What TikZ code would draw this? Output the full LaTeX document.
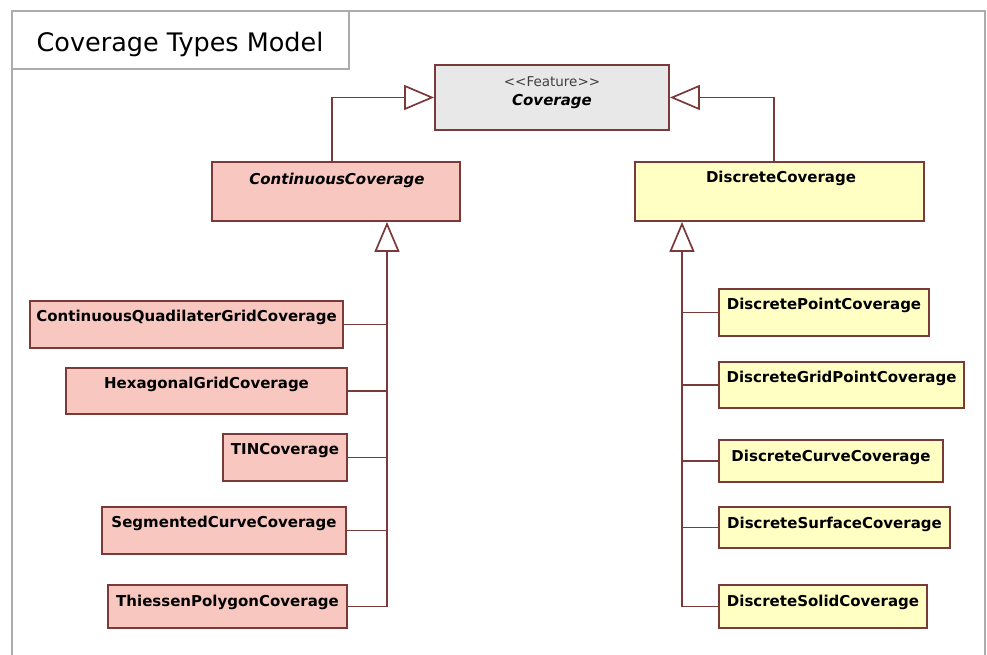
\documentclass[tikz,border=0pt]{standalone}
\usepackage{fontspec}
\setmainfont{DejaVu Sans}
\usetikzlibrary{arrows.meta}
\definecolor{pinkfill}{RGB}{248,200,192}
\definecolor{yelfill}{RGB}{255,255,196}
\definecolor{grayfill}{RGB}{232,232,232}
\definecolor{edge}{RGB}{122,58,58}
\definecolor{framec}{RGB}{172,172,172}
\definecolor{stereo}{RGB}{64,64,64}
\begin{document}
\begin{tikzpicture}[x=1pt,y=-1pt,
  box/.style={draw=edge, line width=1.8pt, inner sep=0pt},
  pbox/.style={box, fill=pinkfill},
  ybox/.style={box, fill=yelfill},
  lbl/.style={font=\fontsize{15}{17}\selectfont\bfseries, text=black, inner sep=0pt},
  conn/.style={draw=edge, line width=1.9pt},
  gen/.style={conn, -{Triangle[open, length=30pt, width=25pt, line width=1.7pt]}}
]
\useasboundingbox (0,0) rectangle (987,655);
\fill[white] (0,0) rectangle (987,655);
% frame
\draw[framec, line width=2pt] (12,655) -- (12,11) -- (985,11) -- (985,655);
\node[draw=framec, line width=1.5pt, minimum width=337, minimum height=58, inner sep=0pt] (titlebox) at (180.5,40) {};
\node[font=\fontsize{25.5}{29}\selectfont, inner sep=0pt] (title) at (180,44) {Coverage Types Model};

% root
\node[box, fill=grayfill, minimum width=234, minimum height=65] (cov) at (552,97.5) {};
\node[font=\fontsize{13.5}{15}\selectfont, text=stereo, inner sep=0pt] (covst) at (552,82) {{<}{<}Feature{>}{>}};
\node[lbl, font=\fontsize{15}{17}\selectfont\bfseries\itshape] (covt) at (552,102) {Coverage};

% second level
\node[pbox, minimum width=248, minimum height=59] (cc) at (336,191.5) {};
\node[lbl, font=\fontsize{15}{17}\selectfont\bfseries\itshape] (cct) at (337,180) {ContinuousCoverage};
\node[ybox, minimum width=289, minimum height=59] (dc) at (779.5,191.5) {};
\node[lbl] (dct) at (781,178) {DiscreteCoverage};

% left children
\node[pbox, minimum width=313, minimum height=47] (cq) at (186.5,324.5) {};
\node[lbl] (cqt) at (186.5,317) {ContinuousQuadilaterGridCoverage};
\node[pbox, minimum width=281, minimum height=46] (hx) at (206.5,391) {};
\node[lbl] (hxt) at (206.5,384) {HexagonalGridCoverage};
\node[pbox, minimum width=124, minimum height=47] (tin) at (285,457.5) {};
\node[lbl] (tint) at (285,451) {TINCoverage};
\node[pbox, minimum width=244, minimum height=47] (seg) at (224,530.5) {};
\node[lbl] (segt) at (224,523) {SegmentedCurveCoverage};
\node[pbox, minimum width=239, minimum height=43] (thi) at (227.5,606.5) {};
\node[lbl] (thit) at (227.5,602) {ThiessenPolygonCoverage};

% right children
\node[ybox, minimum width=210, minimum height=47] (dp) at (824,312.5) {};
\node[lbl] (dpt) at (824,305) {DiscretePointCoverage};
\node[ybox, minimum width=245, minimum height=46] (dgp) at (841.5,385) {};
\node[lbl] (dgpt) at (841.5,378) {DiscreteGridPointCoverage};
\node[ybox, minimum width=224, minimum height=42] (dcu) at (831,461) {};
\node[lbl] (dcut) at (831,457) {DiscreteCurveCoverage};
\node[ybox, minimum width=231, minimum height=41] (dsu) at (834.5,527.5) {};
\node[lbl] (dsut) at (834.5,524) {DiscreteSurfaceCoverage};
\node[ybox, minimum width=208, minimum height=43] (dso) at (823,606.5) {};
\node[lbl] (dsot) at (823,602) {DiscreteSolidCoverage};

% generalisations to root
\draw[gen] ([xshift=-4pt]cc.north) |- (cov.west);
\draw[gen] ([xshift=-5.5pt]dc.north) |- (cov.east);

% left tree
\coordinate (ltr) at ([xshift=51pt]cc.south);
\draw[gen] (thi.east) -| (ltr);
\foreach \n in {cq,hx,tin,seg} \draw[conn] (\n.east) -- (\n.east -| ltr);

% right tree
\coordinate (rtr) at ([xshift=-97.5pt]dc.south);
\draw[gen] (dso.west) -| (rtr);
\foreach \n in {dp,dgp,dcu,dsu} \draw[conn] (\n.west) -- (\n.west -| rtr);
\end{tikzpicture}
\end{document}
